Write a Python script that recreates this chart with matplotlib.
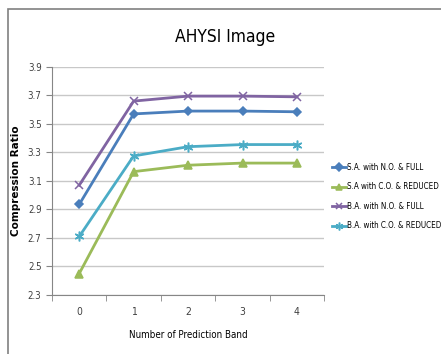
import matplotlib
matplotlib.use("Agg")
import matplotlib.pyplot as plt
from matplotlib.patches import Rectangle

plt.rcParams['font.family'] = ['DejaVu Sans']
plt.rcParams['font.stretch'] = 'condensed'

bands = [0, 1, 2, 3, 4]
sa_no_full = [2.935, 3.57, 3.59, 3.59, 3.585]
sa_co_reduced = [2.45, 3.165, 3.21, 3.225, 3.225]
ba_no_full = [3.07, 3.66, 3.695, 3.695, 3.69]
ba_co_reduced = [2.71, 3.275, 3.34, 3.355, 3.355]
labels = ["S.A. with N.O. & FULL", "S.A with C.O. & REDUCED",
          "B.A. with N.O. & FULL", "B.A. with C.O. & REDUCED"]
y_ticks = [2.3, 2.5, 2.7, 2.9, 3.1, 3.3, 3.5, 3.7, 3.9]

fig = plt.figure(figsize=(4.41, 3.54), dpi=100)
fig.patches.append(Rectangle((0.018, -0.01), 1.0, 0.985, transform=fig.transFigure,
                             fill=False, edgecolor="#808080", linewidth=1.2))
ax = fig.add_axes([0.118, 0.167, 0.617, 0.644])

styles = [
    (sa_no_full, "#4A7EBB", "D", 4.5),
    (sa_co_reduced, "#9BBB59", "^", 6),
    (ba_no_full, "#8064A2", "x", 6),
    (ba_co_reduced, "#4BACC6", (6, 2, 0), 7),
]
for (vals, color, marker, ms), lab in zip(styles, labels):
    ax.plot(bands, vals, color=color, marker=marker, markersize=ms, linewidth=2,
            markeredgewidth=1.1, label=lab)

ax.set_xlim(-0.5, 4.5)
ax.set_ylim(2.3, 3.9)
ax.set_yticks(y_ticks)
ax.set_yticklabels([f"{v:.1f}" for v in y_ticks])
ax.set_xticks(bands)
ax.set_xticks([-0.5, 0.5, 1.5, 2.5, 3.5, 4.5], minor=True)
ax.tick_params(axis="x", which="major", length=0, labelsize=7.5, pad=9, colors="#404040")
ax.tick_params(axis="x", which="minor", length=4, color="#868686")
ax.tick_params(axis="y", length=4, color="#868686", labelsize=7, colors="#404040")
ax.grid(axis="y", color="#C8C8C8", linewidth=1)
ax.set_axisbelow(True)
for s in ["top", "right"]:
    ax.spines[s].set_visible(False)
for s in ["left", "bottom"]:
    ax.spines[s].set_color("#868686")

fig.text(0.51, 0.895, "AHYSI Image", fontsize=12.5, ha="center", va="center")
ax.set_xlabel("Number of Prediction Band", fontsize=7, labelpad=9)
ax.set_ylabel("Compression Ratio", fontsize=7.5, fontweight="bold",
              fontstretch="normal", labelpad=5)

fig.legend(loc="upper left", bbox_to_anchor=(0.737, 0.56), frameon=False,
           fontsize=5.8, handlelength=1.7, handletextpad=0.1, labelspacing=1.3,
           markerscale=0.8)

fig.savefig("out.png", dpi=100)
